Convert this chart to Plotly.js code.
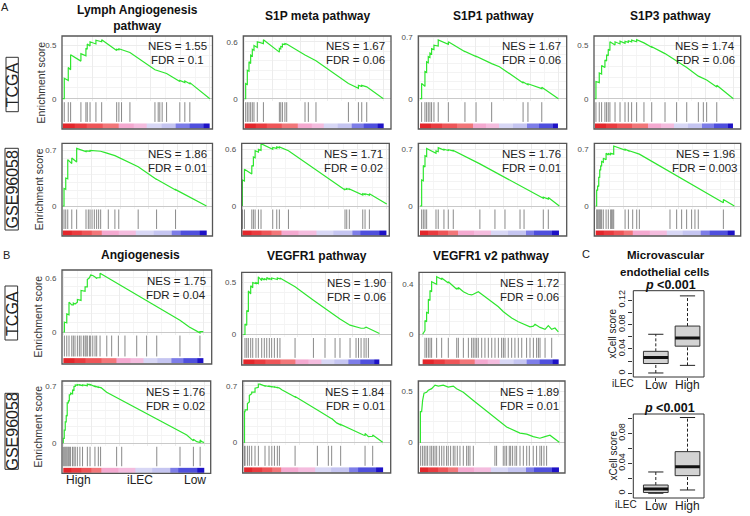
<!DOCTYPE html>
<html><head><meta charset="utf-8">
<script src="https://cdn.plot.ly/plotly-3.0.1.min.js"></script>
<style>html,body{margin:0;padding:0;background:#fff;}#chart{width:750px;height:516px;}</style>
</head><body><div id="chart"></div>
<script>
// ================= DATA =================
const titlesA = ['Lymph Angiogenesis<br>pathway', 'S1P meta pathway', 'S1P1 pathway', 'S1P3 pathway'];
const titlesB = ['Angiogenesis', 'VEGFR1 pathway', 'VEGFR1 v2 pathway'];
const cohorts = ['TCGA', 'GSE96058'];

const nesA_TCGA = ['1.55', '1.67', '1.67', '1.74'];
const fdrA_TCGA = ['0.1', '0.06', '0.06', '0.06'];
const nesA_GSE = ['1.86', '1.71', '1.76', '1.96'];
const fdrA_GSE = ['0.01', '0.02', '0.01', '0.003'];
const nesB_TCGA = ['1.75', '1.90', '1.72'];
const fdrB_TCGA = ['0.04', '0.06', '0.06'];
const nesB_GSE = ['1.76', '1.84', '1.89'];
const fdrB_GSE = ['0.02', '0.01', '0.01'];

// y tick (besides 0) shown for each GSEA plot
const esTickA_TCGA = [0.5, 0.6, 0.7, 0.5];
const esTickA_GSE = [0.7, 0.6, 0.7, 0.7];
const esTickB_TCGA = [0.6, 0.5, 0.4];
const esTickB_GSE = [0.7, 0.7, 0.5];

// running enrichment score vertices [rank %, ES]
const esLymphTCGA = [[0,0],[1.1,0],[1.1,0.19],[3.8,0.17],[3.8,0.29],[5.4,0.27],[5.4,0.41],[12.4,0.35],[12.4,0.42],[15.8,0.40],[15.8,0.47],[16.7,0.46],[16.7,0.51],[18.6,0.49],[18.6,0.53],[22.6,0.51],[22.6,0.545],[26.5,0.53],[26.5,0.55],[36.7,0.45],[36.7,0.46],[38.2,0.455],[38.2,0.465],[40,0.455],[40,0.46],[45.7,0.43],[62.7,0.27],[64.9,0.26],[66,0.255],[67.6,0.25],[70.6,0.235],[79.6,0.16],[79.6,0.17],[83,0.15],[83,0.165],[86.4,0.14],[86.4,0.15],[100,0]];
const hitsLymphTCGA = [1.1,3.8,5.4,12.4,15.8,16.7,18.6,22.6,26.5,36.7,38.2,40,45.7,62.7,64.9,66,67.6,70.6,79.6,83,86.4];

const esS1PmetaTCGA = [[0,0],[0.7,0],[0.7,0.16],[1.9,0.15],[1.9,0.30],[3.1,0.29],[3.1,0.39],[4.3,0.37],[4.3,0.46],[5.5,0.45],[5.5,0.52],[6.7,0.51],[6.7,0.56],[9.1,0.54],[9.1,0.60],[13.5,0.58],[13.5,0.62],[25,0.49],[25,0.53],[26,0.525],[26,0.55],[27.2,0.545],[27.2,0.575],[29,0.57],[29,0.58],[30.3,0.575],[43.5,0.46],[45.9,0.44],[51.4,0.40],[74.8,0.16],[82,0.11],[82,0.14],[84.4,0.13],[84.4,0.14],[88,0.125],[100,0]];
const hitsS1PmetaTCGA = [0.7,1.9,3.1,4.3,5.5,6.7,9.1,13.5,25,26,27.2,29,30.3,43.5,45.9,51.4,74.8,82,84.4,88];

const esS1P1TCGA = [[0,0],[1.2,0],[1.2,0.175],[3.6,0.14],[3.6,0.31],[4.8,0.30],[4.8,0.42],[6,0.41],[6,0.48],[7.2,0.47],[7.2,0.52],[8.4,0.51],[8.4,0.57],[10.1,0.56],[10.1,0.61],[13.2,0.60],[13.2,0.67],[20.5,0.62],[20.5,0.65],[32.5,0.535],[32.5,0.54],[40.5,0.48],[40.5,0.485],[51.8,0.40],[57.4,0.365],[74.5,0.18],[74.5,0.19],[78,0.16],[78,0.17],[88,0.115],[88,0.13],[100,0]];
const hitsS1P1TCGA = [1.2,3.6,4.8,6,7.2,8.4,10.1,13.2,20.5,32.5,40.5,51.8,74.5,78,88];

const esS1P3TCGA = [[0,0],[0.7,0],[0.7,0.16],[3.1,0.15],[3.1,0.24],[4.8,0.23],[4.8,0.31],[7.2,0.29],[7.2,0.36],[8.4,0.35],[8.4,0.41],[9.6,0.40],[9.6,0.46],[10.8,0.45],[10.8,0.53],[14.5,0.50],[14.5,0.53],[18.1,0.51],[18.1,0.535],[21.7,0.515],[21.7,0.535],[24.1,0.525],[24.1,0.54],[26.5,0.53],[26.5,0.545],[30.1,0.53],[30.1,0.55],[35.4,0.52],[41,0.48],[41,0.485],[50.6,0.42],[59,0.35],[66.3,0.29],[74.7,0.21],[78.3,0.19],[80.7,0.175],[88,0.11],[88,0.125],[100,0]];
const hitsS1P3TCGA = [0.7,3.1,4.8,7.2,8.4,9.6,10.8,14.5,18.1,21.7,24.1,26.5,30.1,35.4,41,50.6,59,66.3,74.7,78.3,80.7,88];

const esLymphGSE = [[0,0],[0.9,0],[0.9,0.22],[2.1,0.21],[2.1,0.35],[3.5,0.34],[3.5,0.58],[6.3,0.53],[6.3,0.60],[9.7,0.55],[9.7,0.72],[16.2,0.68],[16.2,0.69],[19,0.685],[19,0.695],[22,0.69],[22,0.695],[26.4,0.685],[29,0.67],[31.7,0.655],[31.7,0.66],[36.3,0.63],[52.5,0.49],[65.3,0.33],[65.3,0.335],[78.5,0.2],[78.5,0.205],[100,0]];
const hitsLymphGSE = [0.9,2.1,3.5,6.3,9.7,16.2,17.8,19,20.4,22,23.6,25,26.4,31.7,36.3,39,52.5,65.3,78.5];

const esS1PmetaGSE = [[0,0],[0,0.275],[1.4,0.265],[1.4,0.39],[6.5,0.34],[6.5,0.43],[7.6,0.42],[7.6,0.52],[8.8,0.51],[8.8,0.585],[11.1,0.57],[11.1,0.60],[12.9,0.59],[12.9,0.66],[21,0.60],[21,0.62],[23.8,0.61],[23.8,0.625],[25.6,0.615],[25.6,0.625],[31.9,0.585],[71.1,0.17],[71.1,0.18],[72.3,0.175],[72.3,0.185],[74.1,0.175],[74.1,0.18],[83.4,0.115],[83.4,0.13],[85,0.12],[85,0.13],[88,0.115],[88,0.13],[100,0.02]];
const hitsS1PmetaGSE = [0,1.4,6.5,7.6,8.8,11.1,12.9,21,23.8,25.6,31.9,71.1,72.3,74.1,83.4,85,88];

const esS1P1GSE = [[0,0],[1.2,0],[1.2,0.32],[2.4,0.31],[2.4,0.5],[3.6,0.48],[3.6,0.62],[4.8,0.61],[4.8,0.71],[11.5,0.65],[11.5,0.68],[13.1,0.67],[13.1,0.72],[17.2,0.69],[17.2,0.70],[20.3,0.685],[20.3,0.695],[23.9,0.68],[23.9,0.685],[43,0.52],[53.8,0.42],[61,0.35],[71.8,0.245],[74.7,0.22],[88.5,0.095],[88.5,0.11],[92.1,0.085],[92.1,0.105],[100,0]];
const hitsS1P1GSE = [1.2,2.4,3.6,4.8,11.5,13.1,17.2,20.3,23.9,43,53.8,61,71.8,74.7,88.5,92.1];

const esS1P3GSE = [[0,0],[0.7,0],[0.7,0.2],[1.4,0.19],[1.4,0.25],[2.2,0.24],[2.2,0.36],[2.9,0.35],[2.9,0.45],[3.6,0.44],[3.6,0.5],[4.3,0.49],[4.3,0.55],[5.5,0.54],[5.5,0.59],[7.5,0.57],[7.5,0.65],[9.1,0.63],[9.1,0.65],[10.8,0.63],[10.8,0.65],[13,0.64],[13,0.74],[21.2,0.69],[21.2,0.70],[23.6,0.68],[23.6,0.685],[31.5,0.64],[53.6,0.42],[74,0.215],[74,0.22],[92.1,0.04],[92.1,0.08],[100,0]];
const hitsS1P3GSE = [0.7,1.4,2.2,2.9,3.6,4.3,5.5,7.5,9.1,10.8,11.5,12.3,13,21.2,23.6,26.7,29.6,31.5,53.6,58.4,62,65.6,69.2,71.6,74,92.1];

const esAngioTCGA = [[0,0],[0.7,0],[0.7,0.11],[2.4,0.10],[2.4,0.2],[4,0.19],[4,0.33],[6,0.30],[7.1,0.30],[7.1,0.32],[8.3,0.31],[10,0.33],[10,0.36],[11.4,0.35],[12.6,0.35],[12.6,0.46],[14.3,0.45],[15.5,0.45],[15.5,0.50],[17.1,0.5],[17.1,0.58],[18.6,0.6],[19.5,0.63],[21,0.625],[22.6,0.61],[23.8,0.59],[23.8,0.6],[26.2,0.6],[26.2,0.65],[83.3,0.13],[90,0.055],[97.6,-0.01],[97.6,0.005],[100,0.005]];
const hitsAngioTCGA = [0.7,2.4,4,6,7.1,8.3,10,11.4,12.6,14.3,15.5,16.2,17.1,18.6,19.5,21,22.6,23.8,26.2,31,34.5,39.3,44,52.4,59.5,66.7,83.3,97.6];

const esVegfr1TCGA = [[0,0],[1.2,0],[1.2,0.1],[2.5,0.09],[2.5,0.23],[3.7,0.22],[3.7,0.42],[5.4,0.39],[5.4,0.47],[6.9,0.45],[6.9,0.5],[9.3,0.49],[9.3,0.5],[11,0.49],[11,0.555],[13.5,0.52],[13.5,0.545],[15.4,0.525],[15.4,0.54],[17.2,0.525],[17.2,0.55],[19.1,0.53],[19.1,0.54],[20.8,0.53],[20.8,0.545],[22.8,0.535],[22.8,0.54],[25,0.53],[25,0.545],[26.9,0.535],[26.9,0.545],[38,0.46],[51.5,0.33],[60,0.25],[67.4,0.18],[71,0.15],[78.4,0.09],[82.8,0.07],[84.6,0.065],[86.5,0.06],[88.7,0.06],[90.2,0.07],[91.9,0.06],[100,0.01]];
const hitsVegfr1TCGA = [1.2,2.5,3.7,5.4,6.9,9.3,11,13.5,15.4,17.2,19.1,20.8,22.8,25,26.9,38,51.5,60,67.4,71,78.4,82.8,84.6,86.5,88.7,90.2,91.9];

const esVegfr1v2TCGA = [[0,0],[1.7,0.03],[1.7,0.11],[2.9,0.10],[2.9,0.175],[4.2,0.17],[4.2,0.28],[5.4,0.27],[5.4,0.35],[6.6,0.34],[6.6,0.42],[10.3,0.40],[10.3,0.46],[14,0.44],[14,0.45],[18.9,0.41],[18.9,0.42],[25.1,0.36],[25.1,0.37],[26.3,0.36],[26.3,0.375],[30,0.34],[33.7,0.32],[36.1,0.315],[37.3,0.32],[38.6,0.325],[39.8,0.33],[41,0.34],[43.5,0.32],[45.9,0.30],[50.9,0.26],[55.8,0.22],[59.5,0.18],[65.6,0.13],[70.5,0.10],[76.6,0.07],[79.1,0.06],[81.6,0.065],[82.8,0.08],[86.5,0.055],[90.2,0.04],[92.6,0.07],[95.1,0.04],[97.5,0.05],[100,0.02]];
const hitsVegfr1v2TCGA = [1.7,2.9,4.2,5.4,6.6,10.3,14,18.9,25.1,26.3,30,33.7,36.1,37.3,38.6,39.8,41,43.5,45.9,48.4,50.9,53.3,55.8,58.2,59.5,60.7,63.1,65.6,68,70.5,73,76.6,79.1,81.6,84,85.3,86.5,90.2,95.1];

const esAngioGSE = [[0,0],[0,0.06],[0.7,0.06],[0.7,0.16],[1.4,0.16],[1.4,0.26],[2.1,0.26],[2.1,0.34],[2.8,0.33],[2.8,0.49],[3.6,0.49],[3.6,0.52],[4.3,0.51],[4.3,0.59],[5.2,0.59],[5.2,0.61],[6.6,0.6],[6.6,0.65],[7.6,0.64],[7.6,0.69],[8.5,0.69],[8.5,0.71],[10,0.705],[10,0.715],[11.8,0.705],[11.8,0.71],[13.7,0.70],[13.7,0.71],[17.1,0.70],[17.1,0.72],[19,0.71],[19,0.715],[22.5,0.69],[22.5,0.695],[24.9,0.68],[24.9,0.685],[26.5,0.675],[26.5,0.68],[30.8,0.62],[37.9,0.555],[37.9,0.56],[41.5,0.525],[41.5,0.53],[66.4,0.3],[82.9,0.15],[87.7,0.1],[92.4,0.03],[92.4,0.05],[94.8,0.02],[97.2,0.01],[97.2,0.04],[98.3,0.02],[100,0.01]];
const hitsAngioGSE = [0,0.7,1.4,2.1,2.8,3.6,4.3,5.2,6.6,7.6,8.5,10,11.8,13.7,17.1,19,22.5,24.9,26.5,37.9,41.5,66.4,82.9,92.4,97.2];

const esVegfr1GSE = [[0,0],[0.3,0],[0.3,0.38],[0.7,0.38],[0.7,0.40],[2.4,0.40],[2.4,0.48],[3.8,0.5],[3.8,0.58],[5.5,0.6],[5.5,0.62],[7.9,0.62],[7.9,0.67],[10.3,0.68],[10.3,0.72],[11.5,0.72],[15.1,0.695],[15.1,0.70],[18,0.69],[18,0.695],[20,0.685],[20,0.69],[21.9,0.68],[21.9,0.685],[24,0.675],[24,0.68],[25.5,0.67],[27.2,0.65],[36.8,0.56],[36.8,0.565],[52.9,0.40],[60.8,0.31],[60.8,0.315],[63.2,0.29],[63.2,0.295],[66.8,0.24],[69.7,0.215],[69.7,0.22],[86.1,0.09],[87.3,0.085],[87.3,0.11],[89.7,0.07],[92.8,0.075],[92.8,0.09],[100,0]];
const hitsVegfr1GSE = [0.3,0.7,2.4,3.8,5.5,7.9,10.3,15.1,18,20,21.9,24,25.5,36.8,52.9,60.8,63.2,69.7,87.3,92.8];

const esVegfr1v2GSE = [[0,0],[0.3,0],[0.3,0.30],[1.2,0.30],[1.9,0.41],[2.9,0.48],[4.8,0.49],[6,0.51],[8.4,0.525],[10.8,0.56],[13.2,0.55],[16.7,0.56],[20.3,0.54],[23.9,0.55],[26.3,0.525],[31.1,0.49],[38.3,0.41],[50.2,0.28],[62.2,0.15],[71.8,0.09],[76.6,0.08],[81.3,0.055],[86.1,0.04],[89.7,0.055],[93.3,0.07],[100,0]];
const hitsVegfr1v2GSE = [0.5,1.9,3.1,4.3,5.5,7.2,8.4,9.6,10.8,12,13.9,15.6,17.2,19.1,20.3,22,23.9,25.1,26.8,28.7,31.1,33.5,34.7,35.9,38.3,53.8,55,59.8,61,62.2,64.1,65.1,66.5,68.2,69.4,71.8,74.2,76.6,78.5,81.3,83.7,86.1,87.3,89,90.9];

// ranked-list colour bar: segment colours and segment edges (rank %)
const rankColors = ['#E3262B','#E93B3F','#EE5558','#F27679','#F4A9D0','#F4BCDE','#D8D7F5','#C5C5F1','#7D7DE8','#4F4FDD','#1E12C6'];
const rankEdgesTCGA = [0, 8, 16, 27, 38, 48, 57, 67, 77, 86, 96, 100];
const rankEdgesGSE = [0, 6, 13, 20, 27, 39, 51, 63, 76, 82, 95, 100];

// Panel C box plot statistics (xCell score), groups Low / High iLEC
const iLECGroups = ['Low', 'High'];
const tcgaLower = [0.0005, 0.013];
const tcgaQ1 = [0.016, 0.0445];
const tcgaMedian = [0.026, 0.058];
const tcgaQ3 = [0.036, 0.0775];
const tcgaUpper = [0.064, 0.127];
const gseLower = [0.0, 0.0044];
const gseQ1 = [0.001, 0.0235];
const gseMedian = [0.0057, 0.0355];
const gseQ3 = [0.011, 0.0555];
const gseUpper = [0.0284, 0.101];
const boxTicksTCGA = [0, 0.02, 0.04, 0.06, 0.08, 0.10, 0.12];
const boxTickTextTCGA = ['0', '', '0.04', '', '0.08', '', '0.12'];
const boxTicksGSE = [0, 0.02, 0.04, 0.06, 0.08, 0.10];
const boxTickTextGSE = ['0', '', '0.04', '', '0.08', ''];

// ================= LAYOUT / DRAWING =================
const W = 750, H = 516;
const FONT = 'Liberation Sans, Arial, Helvetica, sans-serif';
const GREEN = '#2FE62F';
const fx = p => p / W;
const fy = p => 1 - p / H;

const plots = [
  {es: esLymphTCGA, hits: hitsLymphTCGA, edges: rankEdgesTCGA, nes: nesA_TCGA[0], fdr: fdrA_TCGA[0], tick: esTickA_TCGA[0], g: {l:62, r:212.5, top:36, zero:98.7, bot:129, yTop:0.584, xr:[-0.45,101.8]}},
  {es: esS1PmetaTCGA, hits: hitsS1PmetaTCGA, edges: rankEdgesTCGA, nes: nesA_TCGA[1], fdr: fdrA_TCGA[1], tick: esTickA_TCGA[1], g: {l:243.3, r:391, top:36, zero:98.7, bot:129, yTop:0.66, xr:[-1,105.5]}},
  {es: esS1P1TCGA, hits: hitsS1P1TCGA, edges: rankEdgesTCGA, nes: nesA_TCGA[2], fdr: fdrA_TCGA[2], tick: esTickA_TCGA[2], g: {l:418.3, r:566.7, top:36, zero:98.7, bot:129, yTop:0.715, xr:[-1.2,106]}},
  {es: esS1P3TCGA, hits: hitsS1P3TCGA, edges: rankEdgesTCGA, nes: nesA_TCGA[3], fdr: fdrA_TCGA[3], tick: esTickA_TCGA[3], g: {l:594, r:740.7, top:36, zero:98.7, bot:129, yTop:0.584, xr:[-0.7,105.3]}},
  {es: esLymphGSE, hits: hitsLymphGSE, edges: rankEdgesGSE, nes: nesA_GSE[0], fdr: fdrA_GSE[0], tick: esTickA_GSE[0], g: {l:62, r:212.5, top:143.3, zero:206, bot:236, yTop:0.784, xr:[-0.5,104.2]}},
  {es: esS1PmetaGSE, hits: hitsS1PmetaGSE, edges: rankEdgesGSE, nes: nesA_GSE[1], fdr: fdrA_GSE[1], tick: esTickA_GSE[1], g: {l:241.7, r:389.3, top:143.3, zero:206, bot:236, yTop:0.664, xr:[-0.5,101.8]}},
  {es: esS1P1GSE, hits: hitsS1P1GSE, edges: rankEdgesGSE, nes: nesA_GSE[2], fdr: fdrA_GSE[2], tick: esTickA_GSE[2], g: {l:418.3, r:566.7, top:143.3, zero:206, bot:236, yTop:0.774, xr:[-1.2,105.3]}},
  {es: esS1P3GSE, hits: hitsS1P3GSE, edges: rankEdgesGSE, nes: nesA_GSE[3], fdr: fdrA_GSE[3], tick: esTickA_GSE[3], g: {l:594.3, r:740.7, top:143.3, zero:206, bot:236, yTop:0.774, xr:[-1,104.6]}},
  {es: esAngioTCGA, hits: hitsAngioTCGA, edges: rankEdgesTCGA, nes: nesB_TCGA[0], fdr: fdrB_TCGA[0], tick: esTickB_TCGA[0], g: {l:62, r:211.7, top:270, zero:332, bot:364, yTop:0.686, xr:[-1,106]}},
  {es: esVegfr1TCGA, hits: hitsVegfr1TCGA, edges: rankEdgesTCGA, nes: nesB_TCGA[1], fdr: fdrB_TCGA[1], tick: esTickB_TCGA[1], g: {l:241.7, r:391.7, top:272.3, zero:334.5, bot:365, yTop:0.599, xr:[-1.2,109]}},
  {es: esVegfr1v2TCGA, hits: hitsVegfr1v2TCGA, edges: rankEdgesTCGA, nes: nesB_TCGA[2], fdr: fdrB_TCGA[2], tick: esTickB_TCGA[2], g: {l:419, r:565, top:272.3, zero:334.3, bot:365, yTop:0.496, xr:[-2.7,104.9]}},
  {es: esAngioGSE, hits: hitsAngioGSE, edges: rankEdgesGSE, nes: nesB_GSE[0], fdr: fdrB_GSE[0], tick: esTickB_GSE[0], g: {l:62, r:210.7, top:381, zero:443.3, bot:473.3, yTop:0.757, xr:[-0.9,104.7]}},
  {es: esVegfr1GSE, hits: hitsVegfr1GSE, edges: rankEdgesGSE, nes: nesB_GSE[1], fdr: fdrB_GSE[1], tick: esTickB_GSE[1], g: {l:242.7, r:390.7, top:381, zero:442.3, bot:473, yTop:0.758, xr:[-1,105.8]}},
  {es: esVegfr1v2GSE, hits: hitsVegfr1v2GSE, edges: rankEdgesGSE, nes: nesB_GSE[2], fdr: fdrB_GSE[2], tick: esTickB_GSE[2], g: {l:418.3, r:565, top:381, zero:442.3, bot:473, yTop:0.6, xr:[-1.2,104.1]}}
];

const traces = [];
const layout = {
  width: W, height: H, margin: {l:0, r:0, t:0, b:0},
  paper_bgcolor: '#fff', plot_bgcolor: 'rgba(0,0,0,0)',
  showlegend: false, font: {family: FONT, color: '#222'},
  annotations: [], shapes: []
};
const axName = (k, a) => (k === 1 ? a : a + k);
const annot = (x, y, text, o) => Object.assign({xref:'paper', yref:'paper', x: fx(x), y: fy(y), text: text, showarrow:false, xanchor:'center', yanchor:'middle', font:{family:FONT, size:11, color:'#222'}}, o || {});

const colorscale = rankColors.map((c, i) => [i / (rankColors.length - 1), c]);
const zRow = [rankColors.map((c, i) => i)];

plots.forEach((p, i) => {
  const g = p.g;
  const e = 2 * i + 1, h = 2 * i + 2;
  const k = (g.zero - g.top) / g.yTop; // px per ES unit
  const esBottom = g.zero + 2.5;
  layout[axName(e, 'xaxis')] = {domain:[fx(g.l), fx(g.r)], range:g.xr, anchor: axName(e, 'y'), showticklabels:false, ticks:'', showgrid:true, gridcolor:'#ececec', gridwidth:1, tick0:0, dtick:20, zeroline:false, showline:false, fixedrange:true,
    minor:{tick0:10, dtick:20, showgrid:true, gridcolor:'#f5f5f5'}};
  layout[axName(e, 'yaxis')] = {domain:[fy(esBottom), fy(g.top)], range:[-(esBottom - g.zero) / k, g.yTop], anchor: axName(e,'x'),
    tickmode:'array', tickvals:[0, p.tick], ticktext:['0', String(p.tick)], tickfont:{family:FONT, size:8, color:'#4d4d4d'},
    ticks:'outside', ticklen:3, tickcolor:'rgba(0,0,0,0)', showgrid:true, gridcolor:'#ececec', zeroline:true, zerolinecolor:'#c9c9c9', zerolinewidth:1, showline:false, fixedrange:true,
    minor:{tickmode:'linear', tick0:0, dtick:0.1, showgrid:true, gridcolor:'#f3f3f3'}};
  layout[axName(h, 'xaxis')] = {domain:[fx(g.l), fx(g.r)], range:g.xr, anchor: axName(h,'y'), showticklabels:false, ticks:'', showgrid:false, zeroline:false, showline:false, fixedrange:true};
  layout[axName(h, 'yaxis')] = {domain:[fy(g.bot), fy(esBottom)], range:[-0.36, 1.05], anchor: axName(h,'x'), showticklabels:false, ticks:'', showgrid:false, zeroline:false, showline:false, fixedrange:true};

  traces.push({type:'scatter', mode:'lines', x:p.es.map(v => v[0]), y:p.es.map(v => v[1]), xaxis:axName(e,'x'), yaxis:axName(e,'y'),
    line:{color:GREEN, width:1.2}, hoverinfo:'skip'});
  const hx = [], hy = [];
  p.hits.forEach(v => { hx.push(v, v, null); hy.push(0, 1, null); });
  traces.push({type:'scatter', mode:'lines', x:hx, y:hy, xaxis:axName(h,'x'), yaxis:axName(h,'y'), line:{color:'#8a8a8a', width:1}, hoverinfo:'skip'});
  traces.push({type:'heatmap', x:p.edges, y:[-0.33, -0.08], z:zRow, zmin:0, zmax:rankColors.length - 1, colorscale:colorscale, showscale:false,
    xaxis:axName(h,'x'), yaxis:axName(h,'y'), hoverinfo:'skip'});

  layout.shapes.push({type:'rect', xref:'paper', yref:'paper', x0:fx(g.l), x1:fx(g.r), y0:fy(g.bot), y1:fy(g.top), line:{color:'#555', width:1.3}, fillcolor:'rgba(0,0,0,0)'});
  const cx = g.r - 35.5;
  layout.annotations.push(annot(cx, g.top + 10.5, 'NES = ' + p.nes, {font:{family:FONT, size:11.5, color:'#222'}}));
  layout.annotations.push(annot(cx, g.top + 24.5, 'FDR = ' + p.fdr, {font:{family:FONT, size:11.5, color:'#222'}}));
});

// Column titles
const titleFont = {family:FONT, size:12, color:'#111'};
layout.annotations.push(annot(137, 18.5, '<b>' + titlesA[0] + '</b>', {font:titleFont}));
layout.annotations.push(annot(317, 16, '<b>' + titlesA[1] + '</b>', {font:titleFont}));
layout.annotations.push(annot(493, 16, '<b>' + titlesA[2] + '</b>', {font:titleFont}));
layout.annotations.push(annot(670, 16, '<b>' + titlesA[3] + '</b>', {font:titleFont}));
layout.annotations.push(annot(140, 255, '<b>' + titlesB[0] + '</b>', {font:titleFont}));
layout.annotations.push(annot(317, 256, '<b>' + titlesB[1] + '</b>', {font:titleFont}));
layout.annotations.push(annot(491, 256, '<b>' + titlesB[2] + '</b>', {font:titleFont}));

// Panel letters
layout.annotations.push(annot(5, 7, 'A', {font:{family:FONT, size:11, color:'#222'}}));
layout.annotations.push(annot(6, 255, 'B', {font:{family:FONT, size:11, color:'#222'}}));
layout.annotations.push(annot(586, 254, 'C', {font:{family:FONT, size:11, color:'#222'}}));

// Row labels (cohort boxes) and y titles
const cohortBoxes = [
  {name:cohorts[0], x0:6, x1:18.3, y0:57.3, y1:111.7, es:40},
  {name:cohorts[1], x0:5, x1:18.3, y0:148.3, y1:230, es:38.5},
  {name:cohorts[0], x0:5, x1:17.6, y0:286, y1:340, es:37.5},
  {name:cohorts[1], x0:5, x1:18.3, y0:393.3, y1:469.3, es:37.5}
];
const esCentres = [82.5, 189.7, 317, 427];
cohortBoxes.forEach((b, i) => {
  layout.shapes.push({type:'rect', xref:'paper', yref:'paper', x0:fx(b.x0), x1:fx(b.x1), y0:fy(b.y1), y1:fy(b.y0), line:{color:'#333', width:1}, fillcolor:'rgba(0,0,0,0)'});
  layout.annotations.push(annot((b.x0 + b.x1) / 2 + 0.6, (b.y0 + b.y1) / 2, b.name, {textangle:-90, font:{family:FONT, size:16, color:'#222'}}));
  layout.annotations.push(annot(b.es, esCentres[i], 'Enrichment score', {textangle:-90, font:{family:FONT, size:10.5, color:'#333'}}));
});

// rank axis labels under B GSE angiogenesis
const rankLabelFont = {family:FONT, size:12, color:'#222'};
layout.annotations.push(annot(78, 480, 'High', {font:rankLabelFont}));
layout.annotations.push(annot(140, 480, 'iLEC', {font:rankLabelFont}));
layout.annotations.push(annot(195, 480, 'Low', {font:rankLabelFont}));

// ---------- Panel C box plots ----------
const boxes = [
  {lower:tcgaLower, q1:tcgaQ1, med:tcgaMedian, q3:tcgaQ3, upper:tcgaUpper, ticks:boxTicksTCGA, ticktext:boxTickTextTCGA,
   g:{l:633.3, r:704, top:290.7, bot:377, yr:[-0.0061, 0.1355], lab:385, ilec:[623, 383]}, ax:29},
  {lower:gseLower, q1:gseQ1, med:gseMedian, q3:gseQ3, upper:gseUpper, ticks:boxTicksGSE, ticktext:boxTickTextGSE,
   g:{l:633.3, r:704, top:414, bot:498, yr:[-0.0063, 0.1057], lab:505.5, ilec:[626, 504]}, ax:30}
];
const bw = 0.39, cw = 0.24;
const groupPx = [655.8, 687.5];
boxes.forEach(b => {
  const xa = 'x' + b.ax, ya = 'y' + b.ax;
  layout['xaxis' + b.ax] = {domain:[fx(b.g.l), fx(b.g.r)], range:[0.29, 2.52], anchor:ya, tickmode:'array', tickvals:[1, 2], ticktext:iLECGroups,
    showticklabels:false, ticks:'outside', ticklen:3, tickcolor:'#333', showgrid:false, zeroline:false, showline:false, fixedrange:true};
  layout['yaxis' + b.ax] = {domain:[fy(b.g.bot), fy(b.g.top)], range:b.g.yr, anchor:xa, tickmode:'array', tickvals:b.ticks, ticktext:b.ticktext, tickangle:-90,
    ticks:'outside', ticklen:4, tickcolor:'#333', tickfont:{family:FONT, size:9, color:'#222'}, showgrid:false, zeroline:false, showline:false, fixedrange:true};
  layout.shapes.push({type:'rect', xref:'paper', yref:'paper', x0:fx(b.g.l), x1:fx(b.g.r), y0:fy(b.g.bot), y1:fy(b.g.top), line:{color:'#333', width:1}, fillcolor:'rgba(0,0,0,0)'});
  iLECGroups.forEach((name, gi) => {
    const c = gi + 1;
    traces.push({type:'scatter', mode:'lines', xaxis:xa, yaxis:ya, x:[c, c, null, c, c], y:[b.lower[gi], b.q1[gi], null, b.q3[gi], b.upper[gi]],
      line:{color:'#222', width:1, dash:'3px,2px'}, hoverinfo:'skip'});
    traces.push({type:'scatter', mode:'lines', xaxis:xa, yaxis:ya, x:[c - cw, c + cw, null, c - cw, c + cw], y:[b.lower[gi], b.lower[gi], null, b.upper[gi], b.upper[gi]],
      line:{color:'#222', width:1}, hoverinfo:'skip'});
    traces.push({type:'scatter', mode:'lines', xaxis:xa, yaxis:ya, x:[c - bw, c + bw, c + bw, c - bw, c - bw], y:[b.q1[gi], b.q1[gi], b.q3[gi], b.q3[gi], b.q1[gi]],
      fill:'toself', fillcolor:'#D3D3D3', line:{color:'#333', width:1}, hoverinfo:'skip'});
    traces.push({type:'scatter', mode:'lines', xaxis:xa, yaxis:ya, x:[c - bw, c + bw], y:[b.med[gi], b.med[gi]],
      line:{color:'#111', width:3}, hoverinfo:'skip'});
    layout.annotations.push(annot(groupPx[gi], b.g.lab, name, {font:{family:FONT, size:12, color:'#222'}}));
  });
  layout.annotations.push(annot(b.g.ilec[0], b.g.ilec[1], 'iLEC', {font:{family:FONT, size:10, color:'#222'}}));
});
const cTitleFont = {family:FONT, size:11.5, color:'#111'};
layout.annotations.push(annot(666, 255, '<b>Microvascular</b>', {font:cTitleFont}));
layout.annotations.push(annot(664, 271.5, '<b>endothelial cells</b>', {font:cTitleFont}));
layout.annotations.push(annot(670, 285, '<b><i>p</i> &lt;0.001</b>', {font:{family:FONT, size:12.5, color:'#111'}}));
layout.annotations.push(annot(669, 408, '<b><i>p</i> &lt;0.001</b>', {font:{family:FONT, size:12.5, color:'#111'}}));
layout.annotations.push(annot(611.5, 334, 'xCell score', {textangle:-90, font:{family:FONT, size:10, color:'#222'}}));
layout.annotations.push(annot(612.5, 456, 'xCell score', {textangle:-90, font:{family:FONT, size:10, color:'#222'}}));

Plotly.newPlot('chart', traces, layout, {staticPlot:true, displayModeBar:false});
</script></body></html>
